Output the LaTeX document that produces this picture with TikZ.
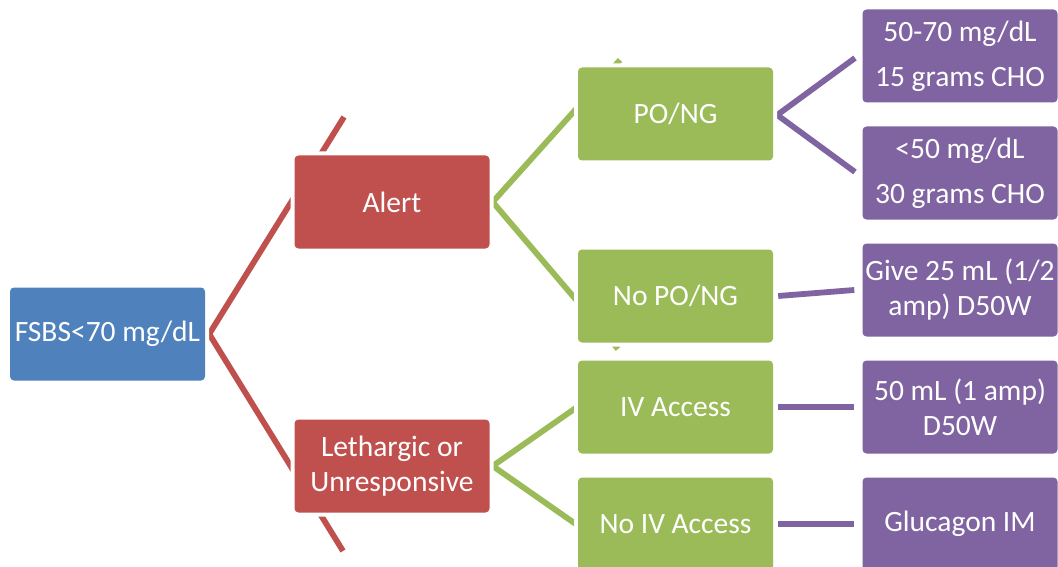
\documentclass[tikz,border=0pt]{standalone}
\usepackage{fontspec}
\setmainfont{Carlito}
\usetikzlibrary{backgrounds}
\definecolor{cblue}{HTML}{4F81BD}
\definecolor{cred}{HTML}{C0504D}
\definecolor{cgreen}{HTML}{9BBB59}
\definecolor{cpurple}{HTML}{8064A2}
\begin{document}
\begin{tikzpicture}[x=1pt,y=-1pt,
  box/.style={rectangle, rounded corners=4pt, minimum width=195pt, minimum height=93pt,
    inner sep=0pt, align=center, text=white, font=\fontsize{29.5}{35}\selectfont,
    preaction={draw=white, line width=8pt}},
  bluebox/.style={box, fill=cblue},
  redbox/.style={box, fill=cred},
  greenbox/.style={box, fill=cgreen},
  purplebox/.style={box, fill=cpurple},
  conn/.style={line width=5.8pt, line join=miter},
]
\begin{pgfonlayer}{background}
\fill[white] (0,0) rectangle (1058,567);
\end{pgfonlayer}
\useasboundingbox (0,0) rectangle (1058,567);
\clip (0,0) rectangle (1058,567);

% nodes
\node[bluebox]   (fsbs)  at (107.5,334) {FSBS<70 mg/dL};
\node[redbox]    (alert) at (392,202)   {Alert};
\node[redbox]    (leth)  at (392,466)   {Lethargic or\\Unresponsive};
\node[greenbox]  (po)    at (675.5,114) {PO/NG};
\node[greenbox]  (nopo)  at (675.5,296) {No PO/NG};
\node[greenbox]  (iv)    at (675.5,407) {IV Access};
\node[greenbox]  (noiv)  at (675.5,524) {No IV Access};
\node[purplebox] (p1)    at (960,56)    {50-70 mg/dL\\[10pt]15 grams CHO};
\node[purplebox] (p2)    at (960,173)   {<50 mg/dL\\[10pt]30 grams CHO};
\node[purplebox] (p3)    at (960,290)   {Give 25 mL (1/2\\amp) D50W};
\node[purplebox] (p4)    at (960,407)   {50 mL (1 amp)\\D50W};
\node[purplebox] (p5)    at (960,524)   {Glucagon IM};

% free ends of connectors
\coordinate (r1) at (344,117);
\coordinate (r2) at (343,551);
\coordinate (g1) at (620,60);
\coordinate (g2) at (618,349);
\coordinate (g3) at (590,398);
\coordinate (g4) at (590,534);
\coordinate (q1) at (855,58);
\coordinate (q2) at (855,172);

\begin{pgfonlayer}{background}
\draw[conn, cred]    (r1) -- ([xshift=4pt]fsbs.east) -- (r2);
\draw[conn, cgreen]  (g1) -- ([xshift=3pt]alert.east) -- (g2);
\draw[conn, cgreen]  (g3) -- ([xshift=3pt]leth.east) -- (g4);
\draw[conn, cpurple] (q1) -- ([xshift=4pt,yshift=-1pt]po.east) -- (q2);
\draw[conn, cpurple] ([xshift=5pt]nopo.east) -- ([xshift=-8pt]p3.west);
\draw[conn, cpurple] ([xshift=5pt]iv.east) -- ([xshift=-8pt]p4.west);
\draw[conn, cpurple] ([xshift=5pt]noiv.east) -- ([xshift=-8pt]p5.west);
\end{pgfonlayer}
\end{tikzpicture}
\end{document}
